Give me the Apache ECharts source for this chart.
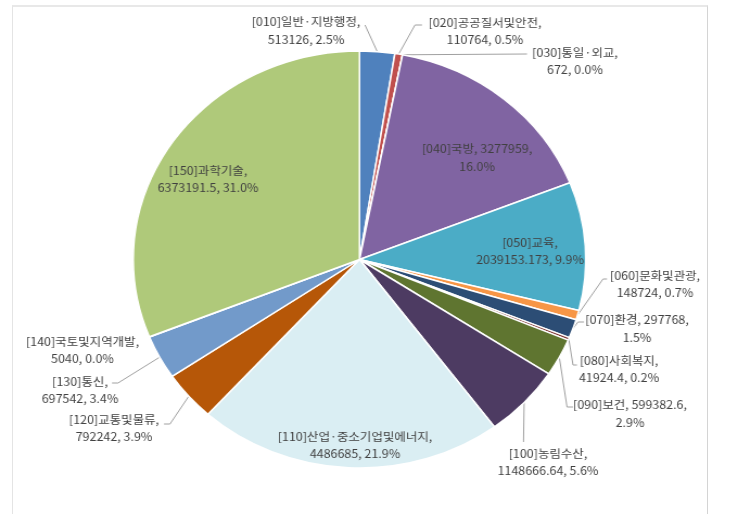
<!DOCTYPE html>
<html><head><meta charset="utf-8">
<script src="https://cdn.jsdelivr.net/npm/echarts@6/dist/echarts.min.js"></script>
<style>
html,body{margin:0;padding:0;background:#fff;overflow:hidden;width:738px;height:522px}
#chart{position:absolute;left:0;top:0;width:680px;height:522px;transform:scaleX(1.085294);transform-origin:0 0}
#frame{position:absolute;left:12px;top:5px;width:694px;height:507px;border-top:2px solid #E8E8E8;border-left:1px solid #E4E4E4;border-right:1px solid #D4D4D4;pointer-events:none}
</style></head>
<body>
<div id="chart"></div>
<div id="frame"></div>
<script>
// ---- data ----
const codes = ['010','020','030','040','050','060','070','080','090','100','110','120','130','140','150'];
const names = ['일반·지방행정','공공질서및안전','통일·외교','국방','교육','문화및관광','환경','사회복지','보건','농림수산','산업·중소기업및에너지','교통및물류','통신','국토및지역개발','과학기술'];
const values = [513126,110764,672,3277959,2039153.173,148724,297768,41924.4,599382.6,1148666.64,4486685,792242,697542,5040,6373191.5];

// ---- style / layout ----
const colors = ['#4F81BD','#C0504D','#9BBB59','#8064A2','#4BACC6','#F79646','#2C4D75','#772C2A','#5F7530','#4D3B62','#DAEEF3','#B65708','#729ACA','#CD7371','#AFC97A'];
const S = 738 / 680;               // horizontal stretch of the reference
const CX = 359.5 / S, CY = 259.5, R = 208.5;
const valueOnFirstLine = [3, 6, 8];
// label block centres (reference pixels)
const labelCenters = [[306,30.5],[485,31],[575,61],[477,157.5],[530,251],[655,284],[637,328.5],[619,369],[630,413.5],[548,462],[355,445],[114,428],[80,390],[82.5,350],[208,179]];
// leader line bends (reference pixels); null = no leader line
const leaders = [
  [[365,25]],
  [[415,25],[422,25]],
  [[527,54]],
  null, null,
  [[603,279],[607,279]],
  [[578,322],[584,322]],
  [[573,365],[577,365]],
  [[567,407],[573,407]],
  [[523.5,442]],
  null,
  [[170,424],[164,424]],
  [[118,383],[112,383]],
  null, null
];

const total = values.reduce((a, b) => a + b, 0);
const cum = [];
values.reduce((acc, v, i) => { cum[i] = acc; return acc + v; }, 0);
function edgePoint(i) {
  const a = 2 * Math.PI * (cum[i] + values[i] / 2) / total;
  return [CX + R * Math.sin(a), CY - R * Math.cos(a)];
}

const chart = echarts.init(document.getElementById('chart'), null, {renderer: 'canvas'});
chart.setOption({
  animation: false,
  backgroundColor: 'transparent',
  series: [{
    type: 'pie',
    center: [CX, CY],
    radius: R,
    startAngle: 90,
    clockwise: true,
    avoidLabelOverlap: false,
    emphasis: {disabled: true},
    itemStyle: {borderColor: '#fff', borderWidth: 1.5},
    label: {
      show: true,
      position: 'outside',
      color: '#404040',
      fontFamily: 'Noto Sans CJK KR',
      fontSize: 11.5,
      lineHeight: 17.5,
      align: 'center',
      formatter: function (p) {
        const i = p.dataIndex;
        const pct = (values[i] / total * 100).toFixed(1) + '%';
        const head = '[' + codes[i] + ']' + names[i] + ',';
        if (valueOnFirstLine.indexOf(i) >= 0) return head + ' ' + values[i] + ',\n' + pct;
        return head + '\n' + values[i] + ', ' + pct;
      }
    },
    labelLine: {show: true, lineStyle: {color: '#A0A0A0', width: 1}},
    labelLayout: function (p) {
      const i = p.dataIndex;
      const c = labelCenters[i];
      const res = {x: c[0] / S, y: c[1], align: 'center', verticalAlign: 'middle'};
      if (leaders[i]) {
        res.labelLinePoints = [edgePoint(i)].concat(leaders[i].map(q => [q[0] / S, q[1]]));
      }
      return res;
    },
    data: values.map((v, i) => ({
      value: v,
      name: names[i],
      itemStyle: {color: colors[i]},
      labelLine: {show: !!leaders[i]}
    }))
  }]
});
</script>
</body></html>
